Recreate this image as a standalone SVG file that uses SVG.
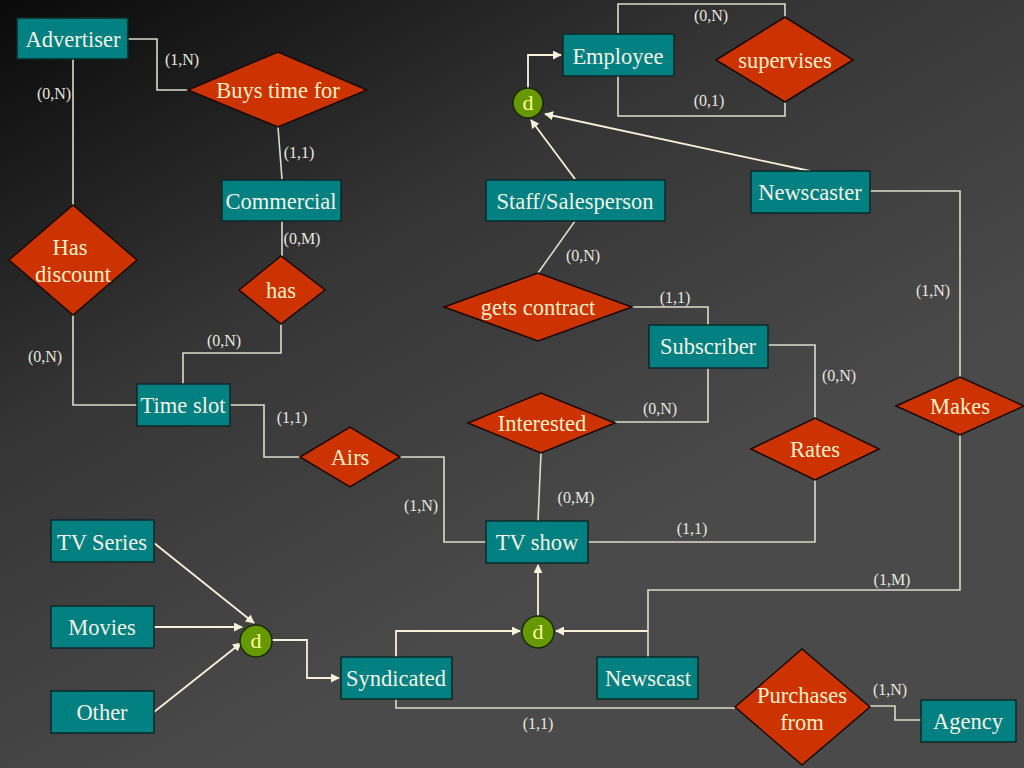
<svg xmlns="http://www.w3.org/2000/svg" width="1024" height="768" viewBox="0 0 1024 768">
<defs>
<linearGradient id="bg" x1="0" y1="0" x2="0.55" y2="0.75">
<stop offset="0" stop-color="#0a0a0a"/>
<stop offset="0.5" stop-color="#353535"/>
<stop offset="1" stop-color="#4a4a4a"/>
</linearGradient>
<marker id="arr" viewBox="0 0 10 10" refX="9" refY="5" markerWidth="9" markerHeight="9" markerUnits="userSpaceOnUse" orient="auto">
<path d="M0,0 L10,5 L0,10 z" fill="#f4f2d8"/>
</marker>
<style>
.ent{fill:#008080;stroke:#0a2a2a;stroke-width:1.5}
.rel{fill:#cc3300;stroke:#1a0a00;stroke-width:1.5}
.dis{fill:#669900;stroke:#1a2a00;stroke-width:1.5}
.et{font-family:"Liberation Serif",serif;font-size:22.5px;fill:#f2f2e6;text-anchor:middle}
.rt{font-family:"Liberation Serif",serif;font-size:22.5px;fill:#ffeec8;text-anchor:middle}
.dt{font-family:"Liberation Serif",serif;font-size:22px;fill:#ffff99;text-anchor:middle}
.lb{font-family:"Liberation Serif",serif;font-size:16px;fill:#e8e8e0;text-anchor:middle}
.c{fill:none;stroke:#dcdccb;stroke-width:1.6}
.a{fill:none;stroke:#f4f2d8;stroke-width:1.8;marker-end:url(#arr)}
</style>
</defs>
<rect width="1024" height="768" fill="url(#bg)"/>

<g id="connectors">
<polyline class="c" points="128,39 157,39 157,90 188,90"/>
<line class="c" x1="73" y1="59" x2="73" y2="205"/>
<line class="c" x1="278" y1="127" x2="282" y2="179"/>
<line class="c" x1="282" y1="221" x2="282" y2="256"/>
<polyline class="c" points="73,315 73,405 137,405"/>
<polyline class="c" points="281,324 281,353 183,353 183,384"/>
<polyline class="c" points="230,405 264,405 264,457 300,457"/>
<polyline class="c" points="400,457 444,457 444,542 486,542"/>
<line class="c" x1="541" y1="453" x2="538" y2="521"/>
<polyline class="c" points="708,368 708,422 615,422"/>
<polyline class="c" points="632,307 708,307 708,325"/>
<line class="c" x1="575" y1="221" x2="538" y2="273"/>
<polyline class="c" points="768,345 815,345 815,418"/>
<polyline class="c" points="815,480 815,542 588,542"/>
<polyline class="c" points="870,191 960,191 960,377"/>
<polyline class="c" points="960,435 960,590 648,590 648,657"/>
<polyline class="c" points="396,699 396,708 735,708"/>
<polyline class="c" points="870,706 895,706 895,720 921,720"/>
<polyline class="c" points="618,33 618,4 785,4 785,17"/>
<polyline class="c" points="618,76 618,116 785,116 785,102"/>
<polyline class="a" points="648,631 556,631"/>
<polyline class="a" points="396,657 396,631 520,631"/>
<line class="a" x1="538" y1="616" x2="538" y2="565"/>
<line class="a" x1="154" y1="543" x2="254" y2="623"/>
<line class="a" x1="154" y1="627" x2="242" y2="627"/>
<line class="a" x1="154" y1="712" x2="241" y2="643"/>
<polyline class="a" points="272,640 307,640 307,678 339,678"/>
<line class="a" x1="575" y1="179" x2="531" y2="120"/>
<line class="a" x1="810" y1="171" x2="545" y2="114"/>
<polyline class="a" points="528,88 528,55 561,55"/>
</g>

<g id="labels">
<text class="lb" x="182" y="65">(1,N)</text>
<text class="lb" x="54" y="99">(0,N)</text>
<text class="lb" x="299" y="158">(1,1)</text>
<text class="lb" x="302" y="244">(0,M)</text>
<text class="lb" x="45" y="362">(0,N)</text>
<text class="lb" x="224" y="346">(0,N)</text>
<text class="lb" x="292" y="423">(1,1)</text>
<text class="lb" x="421" y="511">(1,N)</text>
<text class="lb" x="576" y="503">(0,M)</text>
<text class="lb" x="660" y="414">(0,N)</text>
<text class="lb" x="675" y="303">(1,1)</text>
<text class="lb" x="583" y="261">(0,N)</text>
<text class="lb" x="839" y="381">(0,N)</text>
<text class="lb" x="692" y="534">(1,1)</text>
<text class="lb" x="933" y="296">(1,N)</text>
<text class="lb" x="892" y="585">(1,M)</text>
<text class="lb" x="538" y="729">(1,1)</text>
<text class="lb" x="890" y="695">(1,N)</text>
<text class="lb" x="711" y="21">(0,N)</text>
<text class="lb" x="709" y="106">(0,1)</text>
</g>

<g id="advertiser"><rect class="ent" x="17" y="18" width="111" height="41"/><text class="et" x="73" y="47">Advertiser</text></g>
<g id="commercial"><rect class="ent" x="222" y="180" width="119" height="41"/><text class="et" x="281" y="209">Commercial</text></g>
<g id="employee"><rect class="ent" x="563" y="34" width="111" height="42"/><text class="et" x="618" y="64">Employee</text></g>
<g id="staff"><rect class="ent" x="486" y="180" width="179" height="41"/><text class="et" x="575" y="209">Staff/Salesperson</text></g>
<g id="newscaster"><rect class="ent" x="751" y="171" width="119" height="42"/><text class="et" x="810" y="200">Newscaster</text></g>
<g id="subscriber"><rect class="ent" x="649" y="325" width="119" height="43"/><text class="et" x="708" y="354">Subscriber</text></g>
<g id="timeslot"><rect class="ent" x="137" y="384" width="93" height="42"/><text class="et" x="183" y="413">Time slot</text></g>
<g id="tvshow"><rect class="ent" x="486" y="521" width="102" height="42"/><text class="et" x="537" y="550">TV show</text></g>
<g id="tvseries"><rect class="ent" x="51" y="520" width="103" height="42"/><text class="et" x="102" y="550">TV Series</text></g>
<g id="movies"><rect class="ent" x="51" y="606" width="103" height="42"/><text class="et" x="102" y="635">Movies</text></g>
<g id="other"><rect class="ent" x="51" y="691" width="103" height="42"/><text class="et" x="102" y="720">Other</text></g>
<g id="syndicated"><rect class="ent" x="341" y="657" width="111" height="42"/><text class="et" x="396" y="686">Syndicated</text></g>
<g id="newscast"><rect class="ent" x="597" y="657" width="101" height="42"/><text class="et" x="648" y="686">Newscast</text></g>
<g id="agency"><rect class="ent" x="921" y="700" width="95" height="42"/><text class="et" x="968" y="729">Agency</text></g>

<g id="buys"><polygon class="rel" points="188,90 278,52 367,90 278,127"/><text class="rt" x="278" y="98">Buys time for</text></g>
<g id="hasdiscount"><polygon class="rel" points="9,260 73,205 137,260 73,315"/><text class="rt" x="70" y="255">Has</text><text class="rt" x="73" y="282">discount</text></g>
<g id="has"><polygon class="rel" points="239,290 281,256 325,290 281,324"/><text class="rt" x="281" y="298">has</text></g>
<g id="supervises"><polygon class="rel" points="716,60 785,17 853,60 785,102"/><text class="rt" x="785" y="68">supervises</text></g>
<g id="getscontract"><polygon class="rel" points="444,307 538,273 632,307 538,341"/><text class="rt" x="538" y="315">gets contract</text></g>
<g id="interested"><polygon class="rel" points="468,423 541,393 615,423 541,453"/><text class="rt" x="542" y="431">Interested</text></g>
<g id="airs"><polygon class="rel" points="300,457 350,427 400,457 350,487"/><text class="rt" x="350" y="465">Airs</text></g>
<g id="rates"><polygon class="rel" points="751,449 815,418 879,449 815,480"/><text class="rt" x="815" y="457">Rates</text></g>
<g id="makes"><polygon class="rel" points="896,406 960,377 1024,406 960,435"/><text class="rt" x="960" y="414">Makes</text></g>
<g id="purchases"><polygon class="rel" points="735,707 802,649 870,707 802,765"/><text class="rt" x="802" y="703">Purchases</text><text class="rt" x="802" y="730">from</text></g>

<g id="d1"><circle class="dis" cx="528" cy="103" r="15"/><text class="dt" x="528" y="110">d</text></g>
<g id="d2"><circle class="dis" cx="256" cy="641" r="16"/><text class="dt" x="256" y="648">d</text></g>
<g id="d3"><circle class="dis" cx="538" cy="632" r="16"/><text class="dt" x="538" y="639">d</text></g>
</svg>
